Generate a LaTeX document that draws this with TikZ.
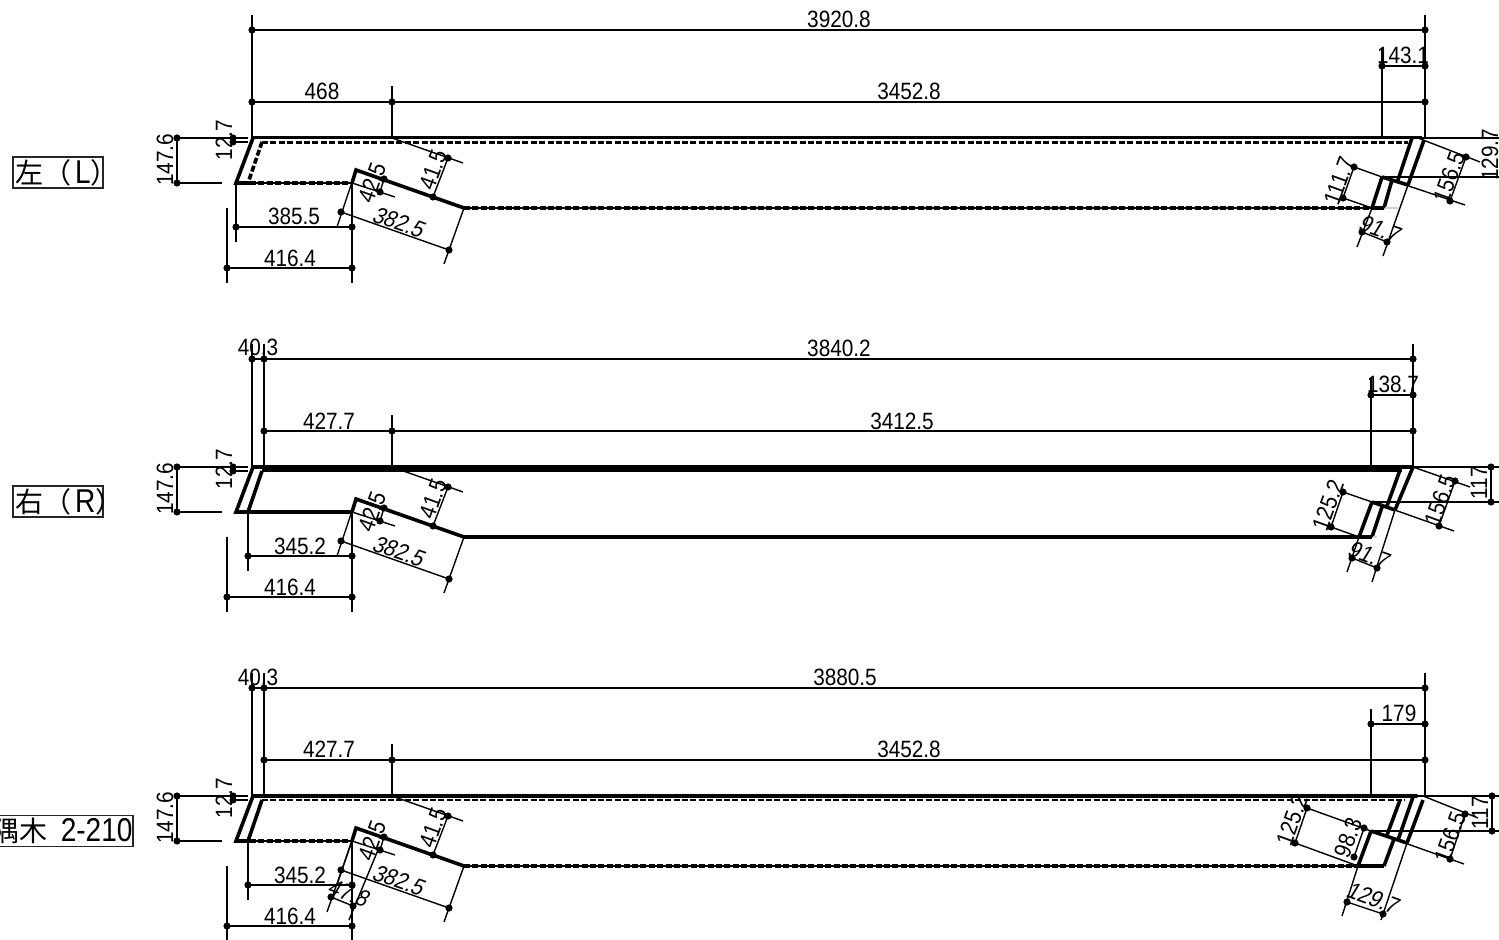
\documentclass[tikz,border=0pt]{standalone}
\usepackage{fontspec}
\setmainfont{Liberation Sans}
\newfontfamily\dimf[FakeStretch=0.88]{Liberation Sans}
\newfontfamily\dimi[FakeStretch=0.88,FakeSlant=0.2]{Liberation Sans}
\newfontfamily\labf[FakeStretch=0.85]{Liberation Sans}
\newfontfamily\cjk{Noto Sans CJK JP}
\newcount\nodeno
\tikzset{
  thinl/.style={line width=0.7pt,black},
  thickl/.style={line width=1.8pt,black},
  dashl/.style={line width=1.8pt,black,dash pattern=on 3pt off 1.2pt},
  dimtext/.style={inner sep=0pt,font=\dimf\fontsize{11.8}{12}\selectfont,text=black},
  dimital/.style={inner sep=0pt,font=\dimi\fontsize{11.8}{12}\selectfont,text=black},
  labelbox/.style={draw=black!85,line width=0.7pt,fill=white,inner sep=0pt,minimum height=15.5pt,anchor=center}
}
\newcommand\tx[4]{\global\advance\nodeno by 1 \node[dimtext,rotate=#3] (t\the\nodeno) at (#1,#2) {#4};}
\newcommand\ti[4]{\global\advance\nodeno by 1 \node[dimital,rotate=#3] (t\the\nodeno) at (#1,#2) {#4};}
\newcommand\dts[1]{\foreach \x/\y in {#1}{\fill[black] (\x,\y) circle (1.8pt);}}
\newcommand\commonleft{%
  \draw[thinl] (177,138)--(248,138) (177,183)--(222,183) (177,138)--(177,183) (233,142)--(248,142);
  \draw[thinl] (352,183)--(352,283) (227,268)--(352,268) (227,208)--(227,283);
  \draw[thinl] (356,170)--(337,227) (341,212)--(449,250) (464,208)--(444,264);
  \draw[thinl] (352,183)--(395,197) (384,179)--(380,192);
  \draw[thinl] (392,138)--(463,163) (448,158)--(433,197);
  \dts{177/138,177/183,233/138,233/142,352/268,227/268,341/212,449/250,384/179,380/192,448/158,433/197}
  \tx{165}{160}{90}{147.6}
  \tx{224}{140}{90}{12.7}
  \tx{290}{258}{0}{416.4}
  \ti{398}{222}{-19.4}{382.5}
  \tx{372}{183}{70}{42.5}
  \tx{433}{170}{70}{41.5}
  \draw[thickl,line join=miter] (352,183)--(356,170)--(464,208);
}
\begin{document}
\begin{tikzpicture}[x=0.5pt,y=-0.5pt]
\useasboundingbox (0,0) rectangle (1499,940);
% ---------- panel 1 ----------
\draw[thinl] (252,15)--(252,138) (1425,15)--(1425,138) (252,30)--(1425,30);
\draw[thinl] (252,102)--(1425,102) (392,86)--(392,138);
\draw[thinl] (1382,48)--(1382,138) (1382,66)--(1425,66);
\draw[thinl] (1418,138)--(1499,138) (1382,177)--(1499,177);
\draw[thinl] (1418,138)--(1480,162) (1466,157)--(1450,201) (1382,177)--(1465,205);
\draw[thinl] (1354,167)--(1382,177) (1343,198)--(1372,208) (1354,167)--(1343,198);
\draw[thinl] (1372,208)--(1357,247) (1408,185)--(1383,256) (1362,232)--(1387,242);
\draw[thinl] (352,227)--(236,227) (236,183)--(236,242);
\dts{252/30,1425/30,252/102,392/102,1425/102,1382/66,1425/66,1466/157,1450/201,1354/167,1343/198,1362/232,1387/242,236/227,352/227}
\commonleft
\draw[line width=1.3pt] (1422,137.5)--(253,137.5);
\draw[thickl,line join=miter] (253,138)--(236,183)--(250,183);
\draw[line width=1.3pt] (250,183)--(352,183);
\draw[dashl] (250,183)--(352,183);
\draw[line width=1.3pt] (464,208)--(1372,208);
\draw[dashl] (464,208)--(1372,208);
\draw[dashl,line width=1.3pt] (262,142.5)--(1408,142.5);
\draw[dashl] (262,142)--(248,183);
\draw[thickl] (1412,138)--(1398,180) (1424,140)--(1408,185) (1382,177)--(1408,185) (1382,177)--(1372,208) (1392,180)--(1384,208) (1372,208)--(1384,208);
\draw[line width=1.1pt,black!18] (1385,208)--(1398,208);
\tx{839}{19}{0}{3920.8}
\tx{322}{91}{0}{468}
\tx{909}{91}{0}{3452.8}
\tx{1403}{55}{0}{143.1}
\tx{294}{216}{0}{385.5}
\tx{1449}{177}{70}{156.5}
\tx{1339}{181}{70}{111.7}
\ti{1379}{229}{-20}{91.7}
\tx{1490}{155}{90}{129.7}
% ---------- panel 2 ----------
\begin{scope}[shift={(0,329)}]
\commonleft
\draw[thinl] (248,183)--(248,242) (248,227)--(352,227);
\dts{248/227,352/227}
\end{scope}
\draw[thinl] (252,344)--(252,467) (264,344)--(264,467) (1413,344)--(1413,467) (252,359)--(1413,359);
\draw[thinl] (264,431)--(1413,431) (392,415)--(392,467);
\draw[thinl] (1371,378)--(1371,467) (1371,395)--(1413,395);
\draw[thinl] (1413,467)--(1499,467) (1372,502)--(1499,502) (1491,467)--(1491,502);
\draw[thinl] (1413,467)--(1470,487) (1455,481)--(1439,526) (1372,502)--(1454,531);
\draw[thinl] (1343,492)--(1372,502) (1331,527)--(1359,537) (1343,492)--(1331,527);
\draw[thinl] (1359,537)--(1347,572) (1395,510)--(1372,582) (1352,558)--(1377,568);
\dts{252/359,264/359,1413/359,264/431,392/431,1413/431,1371/395,1413/395,1491/467,1491/502,1455/481,1439/526,1343/492,1331/527,1352/558,1377/568}
\draw[thickl,line cap=round] (1413,467)--(253,467)--(236,512)--(352,512);
\draw[line width=1.3pt] (262,470.5)--(1402,470.5);
\draw[thickl] (262,471)--(248,512);
\draw[thickl] (464,537)--(1372,537);
\draw[thickl] (1400,470)--(1387,506) (1413,467)--(1395,510) (1372,502)--(1395,510) (1372,502)--(1359,537) (1382,507)--(1372,537);
\draw[line width=1.1pt,black!18] (1373,537)--(1377,537);
\tx{258}{347}{0}{40.3}
\tx{839}{348}{0}{3840.2}
\tx{329}{421}{0}{427.7}
\tx{902}{421}{0}{3412.5}
\tx{1393}{384}{0}{138.7}
\tx{300}{546}{0}{345.2}
\tx{1440}{500}{70}{156.5}
\tx{1328}{505}{70}{125.2}
\ti{1368}{555}{-20}{91.7}
\tx{1479}{483}{90}{117}
% ---------- panel 3 ----------
\begin{scope}[shift={(0,658)}]
\commonleft
\draw[thinl] (248,183)--(248,242) (248,227)--(352,227);
\dts{248/227,352/227}
\end{scope}
\draw[thinl] (252,673)--(252,796) (264,673)--(264,796) (1425,673)--(1425,796) (252,688)--(1425,688);
\draw[thinl] (264,760)--(1425,760) (392,744)--(392,796);
\draw[thinl] (1371,709)--(1371,796) (1371,724)--(1425,724);
\draw[thinl] (1415,796)--(1499,796) (1371,831)--(1499,831) (1492,796)--(1492,831);
\draw[thinl] (1423,796)--(1478,818) (1465,814)--(1450,859) (1371,831)--(1464,864);
\draw[thinl] (1307,808)--(1371,831) (1295,843)--(1358,866) (1307,808)--(1295,843);
\draw[thinl] (1364,828)--(1354,857);
\draw[thinl] (1358,866)--(1342,916) (1407,843)--(1381,920) (1347,902)--(1383,914);
\draw[thinl] (352,841)--(327,912) (378,850)--(349,920) (331,897)--(353,906);
\dts{252/688,264/688,1425/688,264/760,392/760,1425/760,1371/724,1425/724,1492/796,1492/831,1465/814,1450/859,1307/808,1295/843,1364/828,1354/857,1347/902,1383/914,331/897,353/906}
\draw[thickl,line cap=round] (1417,796)--(253,796)--(236,841)--(250,841);
\draw[line width=1.3pt] (250,841)--(352,841) (464,866)--(1384,866);
\draw[dashl] (250,841)--(352,841);
\draw[dashl] (464,866)--(1360,866);
\draw[thickl] (1360,866)--(1384,866);
\draw[dashl,line width=1.3pt] (262,800)--(1405,800);
\draw[thickl] (262,800)--(248,841);
\draw[thickl] (1400,800)--(1387,835) (1413,797)--(1398,840) (1423,800)--(1407,843) (1371,831)--(1407,843) (1371,831)--(1358,866) (1394,839)--(1384,866);
\tx{258}{677}{0}{40.3}
\tx{845}{677}{0}{3880.5}
\tx{329}{749}{0}{427.7}
\tx{909}{749}{0}{3452.8}
\tx{1399}{713}{0}{179}
\tx{300}{875}{0}{345.2}
\ti{348}{893}{-20}{47.8}
\tx{1450}{837}{70}{156.5}
\tx{1292}{820}{70}{125.2}
\tx{1348}{838}{70}{98.3}
\ti{1372}{898}{-20}{129.7}
\tx{1480}{813}{90}{117}
% ---------- labels ----------
\node[labelbox,minimum width=45pt] (lab1) at (58,172.5) {\makebox[44pt][l]{\hspace{1pt}\fontsize{14}{16}\selectfont\cjk 左（\hspace{1.5pt}\labf\fontsize{16.5}{16}\selectfont L\cjk\fontsize{14}{16}\selectfont ）}};
\node[labelbox,minimum width=45pt] (lab2) at (58,501.5) {\makebox[44pt][l]{\hspace{1pt}\fontsize{14}{16}\selectfont\cjk 右（\hspace{1.5pt}\labf\fontsize{16.5}{16}\selectfont R\cjk\fontsize{14}{16}\selectfont ）}};
\node[labelbox,minimum width=71.5pt] (lab3) at (61.5,831) {\makebox[70.5pt][l]{\fontsize{14}{16}\selectfont\cjk 隅木\hspace{3pt}\labf\fontsize{16.5}{16}\selectfont\ 2-210}};
\end{tikzpicture}
\end{document}
